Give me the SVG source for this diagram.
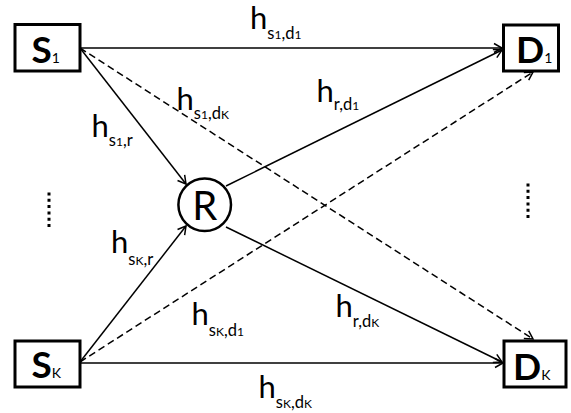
<svg xmlns="http://www.w3.org/2000/svg" width="571" height="413" viewBox="0 0 571 413">
<style>
.box{fill:#fff;stroke:#000;stroke-width:3}
.node{font-family:Lato,"Liberation Sans",sans-serif;font-weight:bold;font-size:37px;fill:#000}
.nsub{font-weight:normal;font-size:14px}
.edge{fill:none;stroke:#000;stroke-width:1.5}
.dash{stroke-dasharray:7 4}
.lbl{font-family:Lato,"Liberation Sans",sans-serif;font-size:31px;fill:#000}
.sub{font-size:16.5px}
.ss{font-size:12px}
.dots{stroke:#000;stroke-width:3;stroke-dasharray:3 3.3}
</style>
<defs>
<marker id="arr" viewBox="-10 -6 12 12" refX="0" refY="0" markerWidth="12" markerHeight="12" markerUnits="userSpaceOnUse" orient="auto">
<path d="M-8,-4.5 L0,0 L-8,4.5" fill="none" stroke="#000" stroke-width="1.5" stroke-dasharray="none"/>
</marker>
</defs>
<rect width="571" height="413" fill="#fff"/>
<g id="connectors">
<line class="edge" x1="80" y1="48" x2="502" y2="48" marker-end="url(#arr)"/>
<line class="edge" x1="80" y1="48" x2="186" y2="184" marker-end="url(#arr)"/>
<line class="edge dash" x1="80" y1="48" x2="533" y2="339" marker-end="url(#arr)"/>
<line class="edge" x1="226" y1="186" x2="502" y2="50" marker-end="url(#arr)"/>
<line class="edge" x1="80" y1="362" x2="186" y2="226" marker-end="url(#arr)"/>
<line class="edge dash" x1="80" y1="362" x2="533" y2="72" marker-end="url(#arr)"/>
<line class="edge" x1="226" y1="227" x2="502" y2="362" marker-end="url(#arr)"/>
<line class="edge" x1="80" y1="363" x2="503" y2="363" marker-end="url(#arr)"/>
</g>
<g id="S1"><rect class="box" x="15" y="24.5" width="65" height="46.5"/><text class="node" x="31.5" y="63">S<tspan class="nsub">1</tspan></text></g>
<g id="SK"><rect class="box" x="15" y="341" width="65" height="46"/><text class="node" x="31.5" y="378">S<tspan class="nsub">K</tspan></text></g>
<g id="D1"><rect class="box" x="503.5" y="25" width="55" height="46"/><text class="node" x="516" y="63">D<tspan class="nsub">1</tspan></text></g>
<g id="DK"><rect class="box" x="504" y="341" width="62" height="46"/><text class="node" x="513" y="380">D<tspan class="nsub">K</tspan></text></g>
<g id="R"><circle cx="204.7" cy="204.7" r="26.3" fill="#fff" stroke="#000" stroke-width="2.5"/><text x="204.7" y="220" text-anchor="middle" font-family="Lato,'Liberation Sans',sans-serif" font-size="40">R</text></g>
<g id="labels">
<text class="lbl" x="250" y="28.5">h<tspan class="sub" dy="10">s<tspan class="ss">1</tspan>,d<tspan class="ss">1</tspan></tspan></text>
<text class="lbl" x="176.5" y="110">h<tspan class="sub" dy="9">s<tspan class="ss">1</tspan>,d<tspan class="ss">K</tspan></tspan></text>
<text class="lbl" x="91.5" y="137">h<tspan class="sub" dy="9">s<tspan class="ss">1</tspan>,r</tspan></text>
<text class="lbl" x="316.5" y="102">h<tspan class="sub" dy="8">r,d<tspan class="ss">1</tspan></tspan></text>
<text class="lbl" x="111" y="253">h<tspan class="sub" dy="12">s<tspan class="ss">K</tspan>,r</tspan></text>
<text class="lbl" x="191.5" y="325">h<tspan class="sub" dy="11">s<tspan class="ss">K</tspan>,d<tspan class="ss">1</tspan></tspan></text>
<text class="lbl" x="335.5" y="317">h<tspan class="sub" dy="10">r,d<tspan class="ss">K</tspan></tspan></text>
<text class="lbl" x="258.5" y="398">h<tspan class="sub" dy="10">s<tspan class="ss">K</tspan>,d<tspan class="ss">K</tspan></tspan></text>
</g>
<g id="ellipsis">
<line class="dots" x1="49" y1="192.5" x2="49" y2="227"/>
<line class="dots" x1="528" y1="183.5" x2="528" y2="218"/>
</g>
</svg>
